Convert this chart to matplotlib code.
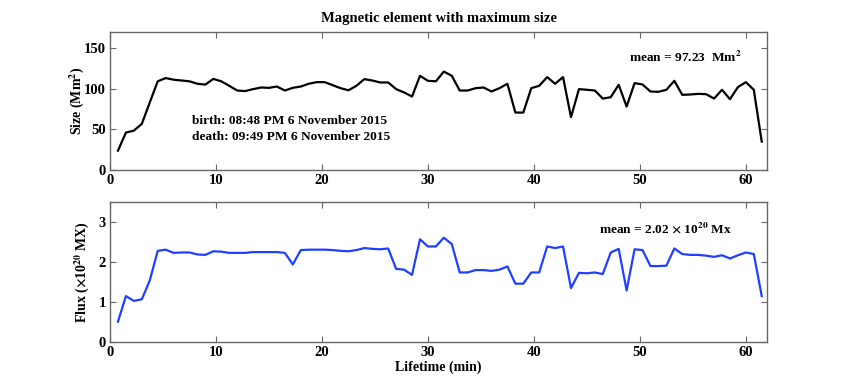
import numpy as np
import matplotlib
matplotlib.use("Agg")
import matplotlib.pyplot as plt

plt.rcParams['font.family'] = ['Liberation Serif', 'DejaVu Serif']
plt.rcParams['font.weight'] = 'bold'
plt.rcParams['mathtext.fontset'] = 'stix'

cadence_min = 0.75
size_mm2 = [23.8, 46, 48.4, 56.7, 83, 109, 113, 111, 110, 109,
            106, 105, 112, 109, 103.5, 97.7, 97, 99.4, 101.4, 101,
            102.6, 97.7, 101, 102.6, 106, 108, 108, 104.3, 100.6, 98,
            103.5, 111.7, 110, 107.6, 107.6, 99.4, 95.3, 90.3, 115.8, 109.6,
            109, 121, 115.8, 97.7, 97.7, 100.6, 101.4, 96.5, 100.6, 106,
            70.6, 70.6, 100.6, 103.5, 114.2, 106, 114.2, 64.9, 99.4, 98.6,
            97.7, 87.8, 89.5, 104.7, 78, 106.8, 105.1, 96.5, 96.1, 98.6,
            109.6, 92.4, 92.8, 93.6, 93.2, 87.8, 98.6, 87, 101.9, 108,
            98.6, 34.9]
flux_1e20 = [0.50, 1.14, 1.02, 1.06, 1.53, 2.27, 2.30, 2.22, 2.23, 2.23,
             2.18, 2.17, 2.26, 2.25, 2.22, 2.22, 2.22, 2.24, 2.24, 2.24,
             2.24, 2.22, 1.93, 2.29, 2.30, 2.30, 2.30, 2.29, 2.27, 2.26,
             2.29, 2.34, 2.32, 2.31, 2.33, 1.82, 1.80, 1.67, 2.56, 2.38,
             2.38, 2.60, 2.44, 1.73, 1.73, 1.79, 1.79, 1.77, 1.80, 1.88,
             1.45, 1.45, 1.73, 1.73, 2.38, 2.34, 2.38, 1.34, 1.72, 1.71,
             1.73, 1.69, 2.23, 2.32, 1.28, 2.31, 2.29, 1.89, 1.89, 1.90,
             2.33, 2.19, 2.17, 2.17, 2.15, 2.12, 2.16, 2.08, 2.16, 2.23,
             2.19, 1.14]
lifetime = cadence_min * np.arange(1, len(size_mm2) + 1)

x_ticks = [0, 10, 20, 30, 40, 50, 60]
size_ticks = [0, 50, 100, 150]
flux_ticks = [0, 1, 2, 3]

fig = plt.figure(figsize=(8.47, 3.87), dpi=100)
ax1 = fig.add_axes([0.1299, 0.5607, 0.7757, 0.3574])
ax2 = fig.add_axes([0.1299, 0.1171, 0.7757, 0.3618])

spine_col = '#666666'
for ax in (ax1, ax2):
    ax.set_xlim(0, 62)
    ax.set_xticks(x_ticks)
    ax.tick_params(direction='in', top=True, right=True, length=4,
                   color=spine_col, labelsize=10.5, pad=3)
    for s in ax.spines.values():
        s.set_color(spine_col)
        s.set_linewidth(1.0)
    for lab in ax.get_xticklabels() + ax.get_yticklabels():
        lab.set_fontweight('bold')

ax1.plot(lifetime, size_mm2, color='black', lw=1.6)
ax1.set_ylim(0, 170)
ax1.set_yticks(size_ticks)
ax1.set_ylabel(r'Size (Mm$^{\mathbf{2}}$)', fontsize=10, fontweight='bold', labelpad=-1.5)
ax1.text(49.0, 138, r'mean = 97.23  Mm$^{\mathbf{2}}$', fontsize=9.6, fontweight='bold', va='center')
ax1.text(7.7, 60.7, 'birth: 08:48 PM 6 November 2015', fontsize=9.6, fontweight='bold', va='center')
ax1.text(7.7, 40.3, 'death: 09:49 PM 6 November 2015', fontsize=9.6, fontweight='bold', va='center')
ax1.set_title('Magnetic element with maximum size', fontsize=10.5, fontweight='bold', pad=7)

ax2.plot(lifetime, flux_1e20, color='#2040ff', lw=1.6)
ax2.set_ylim(0, 3.5)
ax2.set_yticks(flux_ticks)
ax2.set_ylabel(r'Flux ($\times$10$^{\mathbf{20}}$ MX)', fontsize=10, fontweight='bold', labelpad=5.5)
ax2.set_xlabel('Lifetime (min)', fontsize=10, fontweight='bold', labelpad=1)
ax2.text(46.1, 2.84, r'mean = 2.02 $\times$ 10$^{\mathbf{20}}$ Mx', fontsize=9.6, fontweight='bold', va='center')

fig.savefig('out.png', dpi=100)
